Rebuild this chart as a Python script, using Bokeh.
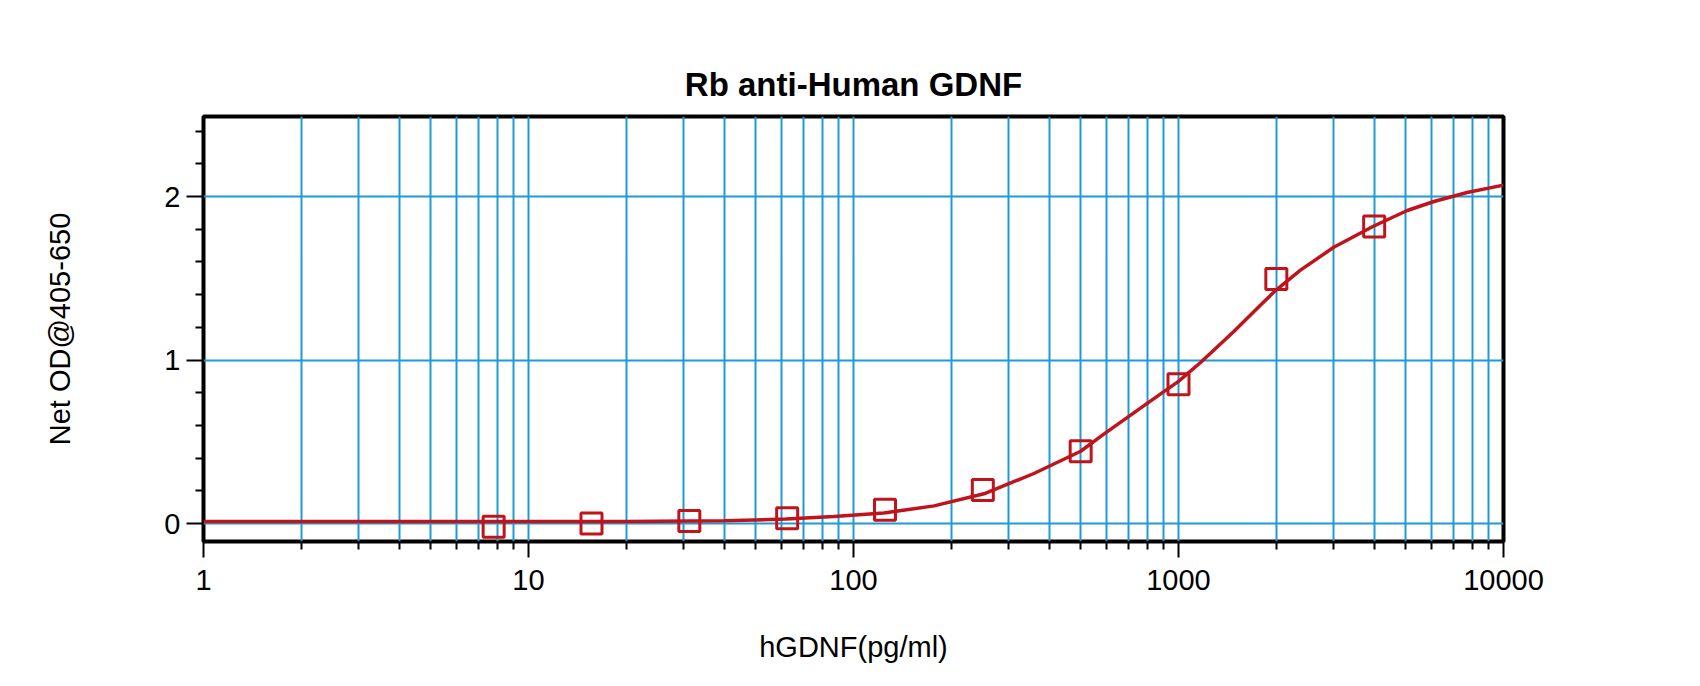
from bokeh.plotting import figure
from bokeh.models import FixedTicker, Range1d
from bokeh.embed import file_html
from bokeh.resources import INLINE

# standard points (pg/ml) and net OD
conc = [7.8125, 15.625, 31.25, 62.5, 125, 250, 500, 1000, 2000, 4000]
od = [-0.02, 0.0, 0.016, 0.033, 0.085, 0.205, 0.442, 0.852, 1.496, 1.817]

# fitted curve
fit_x = [1, 10, 20, 40, 62, 87, 124, 177, 252, 359, 500, 589, 695, 801, 1000,
         1169, 1480, 1786, 2000, 2373, 3004, 3963, 5058, 6110, 7727, 10000]
fit_y = [0.012, 0.012, 0.013, 0.017, 0.027, 0.043, 0.065, 0.108, 0.182, 0.306, 0.442,
         0.547, 0.648, 0.735, 0.87, 0.985, 1.175, 1.335, 1.43, 1.55, 1.69, 1.817,
         1.915, 1.97, 2.025, 2.07]

x_major = [1, 10, 100, 1000, 10000]
x_minor = [m * d for d in [1, 10, 100, 1000] for m in range(2, 10)]
x_labels = {1: "1", 10: "10", 100: "100", 1000: "1000", 10000: "10000"}
y_major = [0, 1, 2]
y_minor = [0.2, 0.4, 0.6, 0.8, 1.2, 1.4, 1.6, 1.8, 2.2, 2.4]

RED = "#C0141C"
BLUE = "#1E9BD2"
FONT = "Liberation Sans"

p = figure(x_axis_type="log", frame_width=1300, frame_height=425,
           min_border_left=203, min_border_right=181, min_border_top=116, min_border_bottom=129,
           x_range=Range1d(1, 10000), y_range=Range1d(-0.11, 2.49),
           title="Rb anti-Human GDNF", toolbar_location=None, output_backend="svg")

# === Title === #
p.title.align = "center"
p.title.text_font = FONT
p.title.text_font_size = "33px"
p.title.text_font_style = "bold"
p.title.text_color = "black"
p.title.offset = 24
p.title.standoff = 28

# === Frame === #
p.outline_line_color = "black"
p.outline_line_width = 4
p.background_fill_color = "white"
p.border_fill_color = "white"

# === Ticks / Grid === #
p.xaxis.ticker = FixedTicker(ticks=x_major, minor_ticks=x_minor)
p.yaxis.ticker = FixedTicker(ticks=y_major, minor_ticks=y_minor)
p.xaxis.major_label_overrides = x_labels

p.xgrid.grid_line_color = BLUE
p.xgrid.grid_line_width = 2
p.xgrid.minor_grid_line_color = BLUE
p.xgrid.minor_grid_line_width = 2
p.ygrid.grid_line_color = BLUE
p.ygrid.grid_line_width = 2

for ax in (p.xaxis, p.yaxis):
    ax.axis_line_color = None
    ax.major_tick_line_color = "black"
    ax.major_tick_line_width = 2
    ax.minor_tick_line_color = "black"
    ax.minor_tick_line_width = 2
    ax.major_tick_in = 0
    ax.minor_tick_in = 0
    ax.major_label_text_font = FONT
    ax.major_label_text_font_size = "29px"
    ax.major_label_text_color = "black"
    ax.axis_label_text_font = FONT
    ax.axis_label_text_font_size = "29px"
    ax.axis_label_text_font_style = "normal"
    ax.axis_label_text_color = "black"

p.xaxis.major_tick_out = 16
p.xaxis.minor_tick_out = 8
p.xaxis.major_label_standoff = 12
p.xaxis.axis_label = "hGDNF(pg/ml)"
p.xaxis.axis_label_standoff = 38

p.yaxis.major_tick_out = 17
p.yaxis.minor_tick_out = 8
p.yaxis.major_label_standoff = 6
p.yaxis.axis_label = "Net OD@405-650"
p.yaxis.axis_label_standoff = 85

# === Data === #
p.line(fit_x, fit_y, line_color=RED, line_width=3.5)
p.scatter(conc, od, marker="square", size=21, fill_color=None, line_color=RED, line_width=3)

open("out.html", "w").write(file_html(p, INLINE))
